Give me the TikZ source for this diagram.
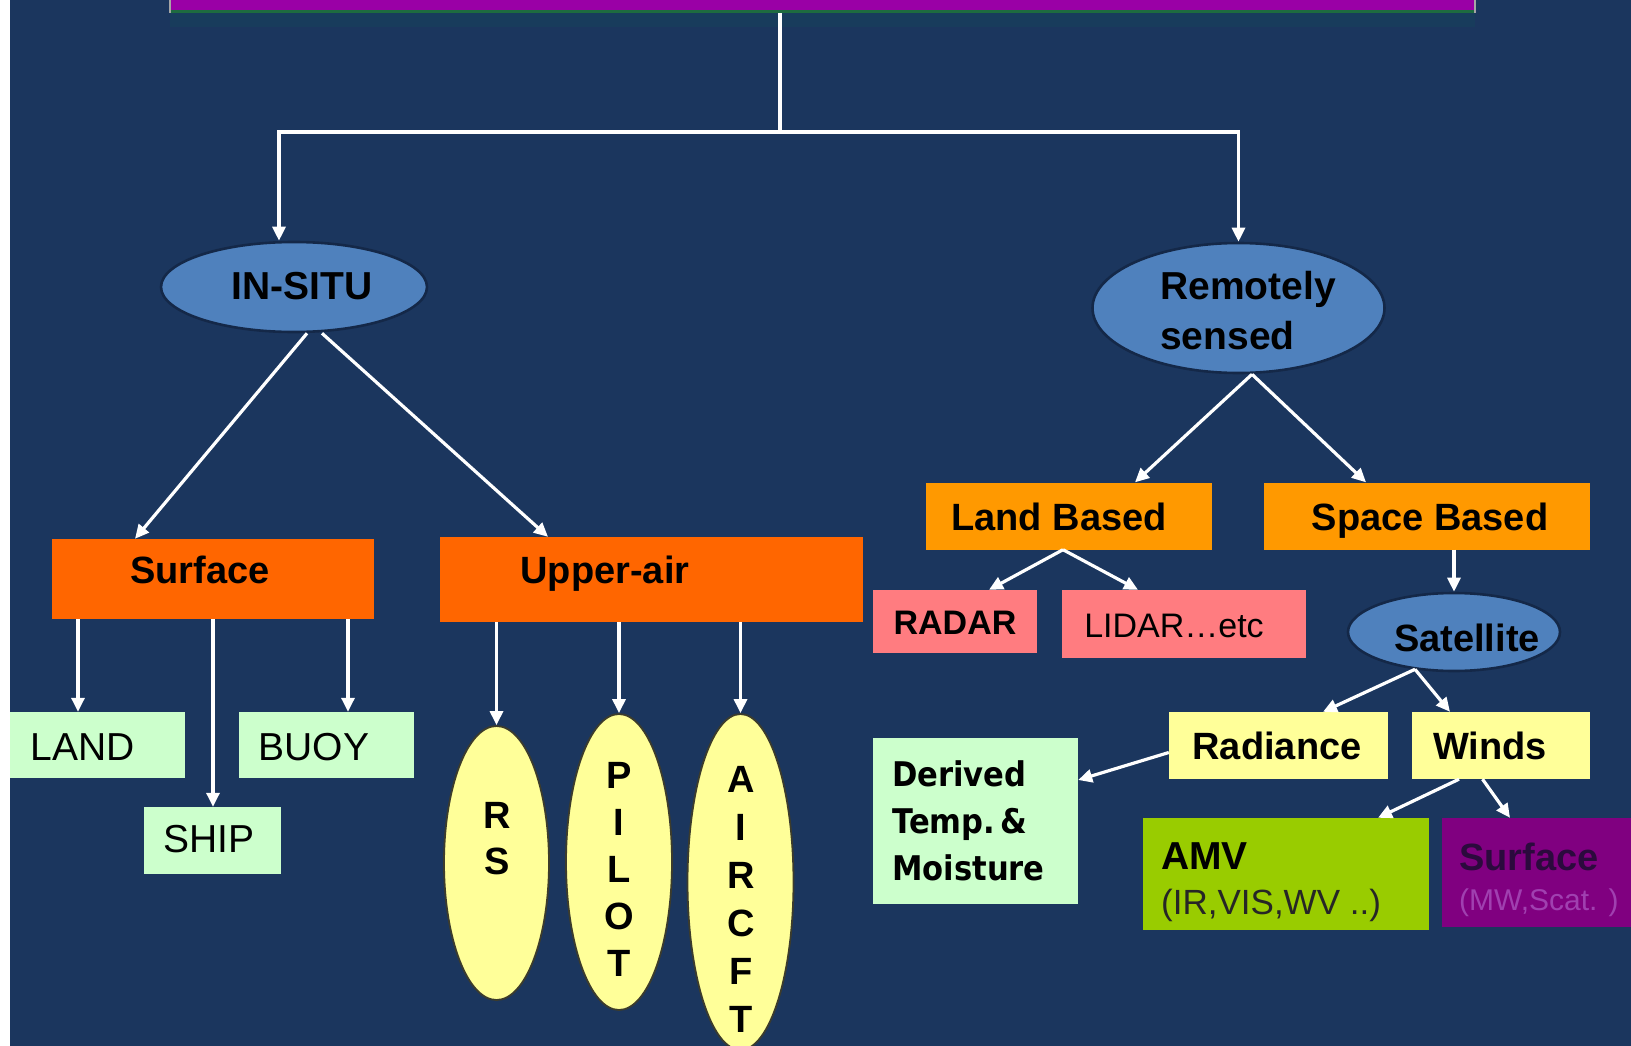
\documentclass[tikz,border=0pt]{standalone}
\usepackage{fontspec}
\setmainfont{Liberation Sans}
\newfontfamily\derivedfont[FakeStretch=0.9]{DejaVu Sans}
\usetikzlibrary{arrows.meta,shapes.geometric}

\definecolor{bgnavy}{HTML}{1B365E}
\definecolor{barmagenta}{HTML}{9A00A6}
\definecolor{bargreen}{HTML}{1E6B40}
\definecolor{barshadow}{HTML}{183C5C}
\definecolor{ellblue}{HTML}{4F81BD}
\definecolor{ellborder}{HTML}{142848}
\definecolor{boxorange}{HTML}{FF6600}
\definecolor{boxamber}{HTML}{FF9900}
\definecolor{boxsalmon}{HTML}{FF7C80}
\definecolor{palegreen}{HTML}{CCFFCC}
\definecolor{paleyellow}{HTML}{FFFF99}
\definecolor{yelborder}{HTML}{3C3C2C}
\definecolor{boxlime}{HTML}{99CC00}
\definecolor{boxpurple}{HTML}{800080}
\definecolor{purpletext}{HTML}{2B0A3D}
\definecolor{purplesub}{HTML}{A040B0}

\begin{document}
\begin{tikzpicture}[x=1pt,y=-1pt,
  conn/.style={draw=white, line width=3.2pt},
  arr/.style={conn, -{Triangle[length=14pt,width=13pt]}},
  blk/.style={rectangle, inner sep=0pt, draw=none},
  blueell/.style={ellipse, inner sep=0pt, fill=ellblue, draw=ellborder, line width=2.6pt},
  yelell/.style={ellipse, inner sep=0pt, fill=paleyellow, draw=yelborder, line width=1.8pt},
  lab/.style={inner sep=0pt, text=black},
  bold38/.style={lab, font=\fontsize{38}{46}\selectfont\bfseries, text height=27pt, text depth=0pt},
  bold39/.style={lab, font=\fontsize{39}{47}\selectfont\bfseries, text height=28pt, text depth=0pt},
  bold34/.style={lab, font=\fontsize{34}{42}\selectfont\bfseries, text height=24pt, text depth=0pt},
  reg39/.style={lab, font=\fontsize{39}{47}\selectfont, text height=28pt, text depth=0pt},
  reg34/.style={lab, font=\fontsize{34}{42}\selectfont, text height=24pt, text depth=0pt},
  reg35/.style={lab, font=\fontsize{35}{42}\selectfont, text height=25pt, text depth=0pt},
  reg30/.style={lab, font=\fontsize{30}{36}\selectfont, text height=21pt, text depth=0pt},
]
% canvas
\fill[bgnavy] (0,0) rectangle (1631,1046);
\path[use as bounding box] (0,0) rectangle (1631,1046);
\fill[white] (0,0) rectangle (10,1046);

% title bar at the top
\fill[barshadow] (170,13) rectangle (1475,27);
\node[blk, fill=barmagenta, minimum width=1305pt, minimum height=16pt] (topbar) at (822.5,3) {};
\draw[bargreen, line width=3pt] (topbar.south west) -- (topbar.south east);
\draw[gray!70, line width=2pt] (topbar.north west) -- ([yshift=-2pt]topbar.south west);
\draw[gray!70, line width=2pt] (topbar.north east) -- ([yshift=-2pt]topbar.south east);

% first level
\node[blueell, minimum width=266pt, minimum height=90pt] (insitu) at (294,287) {};
\node[bold39] (insitu-t) at (302,285) {IN-SITU};
\node[blueell, minimum width=292pt, minimum height=130pt] (remote) at (1238.5,308) {};
\node[lab, font=\fontsize{39}{50}\selectfont\bfseries, align=left, anchor=west] (remote-t) at (1160,311) {Remotely\\sensed};

% in-situ branch
\node[blk, fill=boxorange, minimum width=322pt, minimum height=80pt] (surface) at (213,579) {};
\node[bold38] (surface-t) at (200,570) {Surface};
\node[blk, fill=boxorange, minimum width=423pt, minimum height=85pt] (upperair) at (651.5,579.5) {};
\node[bold38] (upperair-t) at (605,570) {Upper-air};

\node[blk, fill=palegreen, minimum width=175pt, minimum height=66pt] (land) at (97.5,745) {};
\node[reg39] (land-t) at (83,746) {LAND};
\node[blk, fill=palegreen, minimum width=175pt, minimum height=66pt] (buoy) at (326.5,745) {};
\node[reg39] (buoy-t) at (314,746) {BUOY};
\node[blk, fill=palegreen, minimum width=137pt, minimum height=67pt] (ship) at (212.5,840.5) {};
\node[reg39] (ship-t) at (209,838) {SHIP};

\node[yelell, minimum width=105pt, minimum height=274pt] (rs) at (496.5,863) {};
\node[lab, font=\fontsize{38}{46}\selectfont\bfseries, align=center] (rs-t) at (497,839) {R\\S};
\node[yelell, minimum width=106pt, minimum height=296pt] (pilot) at (619,862) {};
\node[lab, font=\fontsize{38}{47}\selectfont\bfseries, align=center] (pilot-t) at (619,869) {P\\I\\L\\O\\T};
\node[yelell, minimum width=106pt, minimum height=336pt] (aircft) at (740.5,882) {};
\node[lab, font=\fontsize{38}{48}\selectfont\bfseries, align=center] (aircft-t) at (741,899) {A\\I\\R\\C\\F\\T};

% remotely sensed branch
\node[blk, fill=boxamber, minimum width=286pt, minimum height=67pt] (landbased) at (1069,516) {};
\node[bold38] (landbased-t) at (1059,517) {Land Based};
\node[blk, fill=boxamber, minimum width=326pt, minimum height=67pt] (spacebased) at (1427,516) {};
\node[bold38] (spacebased-t) at (1430,517) {Space Based};

\node[blk, fill=boxsalmon, minimum width=164pt, minimum height=63pt] (radar) at (955,621.5) {};
\node[bold34] (radar-t) at (955,622) {RADAR};
\node[blk, fill=boxsalmon, minimum width=244pt, minimum height=68pt] (lidar) at (1184,624) {};
\node[reg34] (lidar-t) at (1174,625) {LIDAR…etc};

\node[blueell, minimum width=212pt, minimum height=78pt] (sat) at (1454,632) {};
\node[bold38] (sat-t) at (1467,638) {Satellite};

\node[blk, fill=paleyellow, minimum width=219pt, minimum height=67pt] (radiance) at (1278.5,745.5) {};
\node[bold38] (radiance-t) at (1277,746) {Radiance};
\node[blk, fill=paleyellow, minimum width=178pt, minimum height=67pt] (winds) at (1501,745.5) {};
\node[bold38] (winds-t) at (1490,746) {Winds};

\node[blk, fill=palegreen, minimum width=205pt, minimum height=166pt] (derived) at (975.5,821) {};
\node[lab, font=\derivedfont\fontsize{34}{47}\selectfont\bfseries, align=left, anchor=west] (derived-t) at (892,821) {Derived\\Temp.\,\&\\Moisture};

\node[blk, fill=boxlime, minimum width=286pt, minimum height=112pt] (amv) at (1286,874) {};
\node[bold39, anchor=west] (amv-t) at (1161,855) {AMV};
\node[reg35, anchor=west, text=black!85] (amv-s) at (1161,902) {(IR,VIS,WV ..)};

\node[blk, fill=boxpurple, minimum width=189pt, minimum height=109pt] (surf2) at (1536.5,872.5) {};
\node[bold38, anchor=west, text=purpletext] (surf2-t) at (1459,857) {Surface};
\node[reg30, anchor=west, text=purplesub] (surf2-s) at (1459,900) {(MW,Scat. )};

% connectors
\coordinate (hub) at (780,132);
\draw[conn] ([yshift=-2pt]topbar.south -| hub) -- (hub);
\draw[arr] (hub) -| ([xshift=-15pt]insitu.north);
\draw[arr] (hub) -| (remote.north);

\draw[arr] ([xshift=13pt]insitu.south) -- ([xshift=-78pt]surface.north);
\draw[arr] ([xshift=28pt]insitu.south) -- ([xshift=-103.5pt]upperair.north);

\coordinate (s1) at ([xshift=-135pt]surface.south);
\coordinate (s3) at ([xshift=135pt]surface.south);
\draw[arr] (s1) -- (s1 |- land.north);
\draw[arr] (surface.south) -- (surface.south |- ship.north);
\draw[arr] (s3) -- (s3 |- buoy.north);

\draw[arr] (upperair.south -| rs.north) -- (rs.north);
\draw[arr] (upperair.south -| pilot.north) -- (pilot.north);
\draw[arr] (upperair.south -| aircft.north) -- (aircft.north);

\draw[arr] ([xshift=13.5pt]remote.south) -- ([xshift=66pt]landbased.north);
\draw[arr] ([xshift=13.5pt]remote.south) -- ([xshift=-61pt]spacebased.north);
\draw[arr] ([xshift=-6pt]landbased.south) -- ([xshift=34pt]radar.north);
\draw[arr] ([xshift=-6pt]landbased.south) -- ([xshift=-46pt]lidar.north);
\draw[arr] (spacebased.south -| sat.north) -- (sat.north);
\draw[arr] ([xshift=-39pt,yshift=3pt]sat.south) -- ([xshift=44.5pt]radiance.north);
\draw[arr] ([xshift=-39pt,yshift=3pt]sat.south) -- ([xshift=-51pt]winds.north);
\draw[arr] ([yshift=-7pt]radiance.west) -- ([yshift=41pt]derived.east);
\draw[arr] ([xshift=-42pt]winds.south) -- ([xshift=92pt]amv.north);
\draw[arr] ([xshift=-18.5pt]winds.south) -- ([xshift=-26.5pt]surf2.north);
\end{tikzpicture}
\end{document}
